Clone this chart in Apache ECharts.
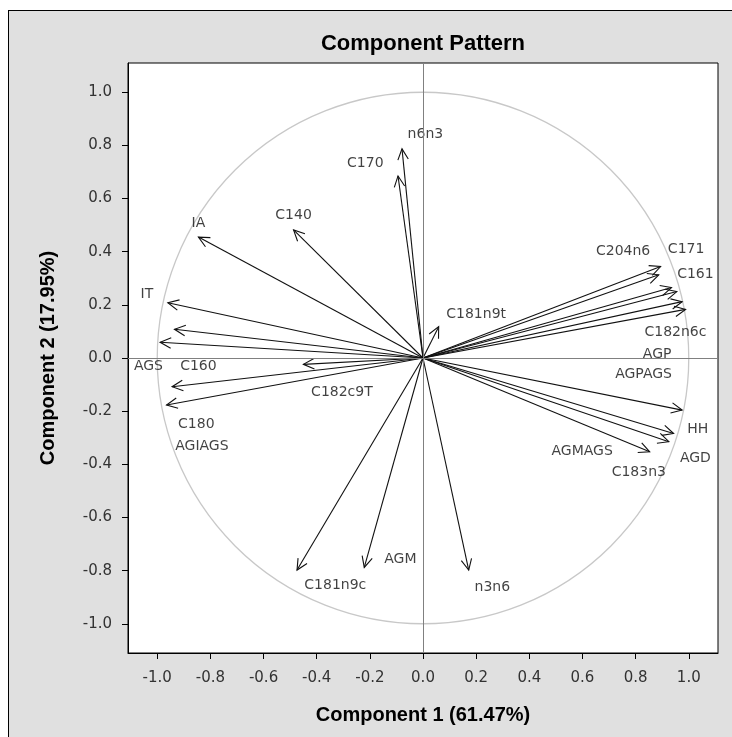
<!DOCTYPE html>
<html><head><meta charset="utf-8">
<script src="https://cdn.jsdelivr.net/npm/echarts@6/dist/echarts.min.js"></script>
<style>
html,body{margin:0;padding:0;background:#fff;overflow:hidden;}
#frame{position:absolute;left:8px;top:10px;width:740px;height:740px;background:#e0e0e0;border:1px solid #000;}
#c{position:absolute;left:0;top:0;width:732px;height:737px;}
</style>
</head><body><div id="frame"></div><div id="c"></div>
<script>
// Arrow end points (component loadings)
const varNames = ['n6n3','C170','C140','IA','IT','C160','AGS','C182c9T','C180','AGIAGS','C181n9t',
  'C181n9c','AGM','n3n6','C204n6','C171','C161','AGP','C182n6c','AGPAGS','HH','AGD','AGMAGS','C183n3'];
const comp1 = [-0.079,-0.094,-0.487,-0.845,-0.960,-0.935,-0.989,-0.450,-0.944,-0.965,0.059,
  -0.474,-0.221,0.172,0.894,0.887,0.935,0.955,0.975,0.988,0.975,0.943,0.925,0.853];
const comp2 = [0.787,0.685,0.482,0.455,0.208,0.108,0.059,-0.024,-0.108,-0.177,0.118,
  -0.798,-0.788,-0.798,0.344,0.313,0.265,0.250,0.212,0.183,-0.196,-0.284,-0.315,-0.353];
// Label placements (data coordinates)
const labelText = ['n6n3','C170','C140','IA','IT','C160','AGS','C182c9T','C180','AGIAGS','C181n9t',
  'C181n9c','AGM','n3n6','C204n6','C171','C161','AGP','C182n6c','AGPAGS','HH','AGD','AGMAGS','C183n3'];
const labelX = [0.009,-0.217,-0.487,-0.845,-1.039,-0.845,-1.033,-0.305,-0.853,-0.832,0.200,
  -0.330,-0.085,0.261,0.753,0.990,1.025,0.881,0.950,0.830,1.034,1.025,0.599,0.812];
const labelY = [0.840,0.733,0.537,0.507,0.240,-0.033,-0.033,-0.131,-0.249,-0.334,0.166,
  -0.855,-0.757,-0.862,0.403,0.410,0.315,0.015,0.095,-0.060,-0.267,-0.378,-0.350,-0.430];
const tickValues = [-1.0,-0.8,-0.6,-0.4,-0.2,0.0,0.2,0.4,0.6,0.8,1.0];
const axisMin = -1.11, axisMax = 1.11;
const title = 'Component Pattern';
const xTitle = 'Component 1 (61.47%)';
const yTitle = 'Component 2 (17.95%)';

const chart = echarts.init(document.getElementById('c'), null, {renderer:'canvas'});
const FONT = 'DejaVu Sans';
const arrowData = varNames.map((n,i)=>[comp1[i], comp2[i], n]);
const labelData = labelText.map((n,i)=>[labelX[i], labelY[i], n]);

function axisCommon(name, margin){
  return {
    type:'value', min:axisMin, max:axisMax,
    splitLine:{show:false},
    axisLine:{show:true, onZero:false, lineStyle:{color:'#000', width:1}},
    axisTick:{show:true, customValues:tickValues, length:6, lineStyle:{color:'#000'}},
    axisLabel:{show:true, customValues:tickValues, formatter:v=>Number(v).toFixed(1),
      fontFamily:FONT, fontSize:15, color:'#333', margin:margin},
    name:name, nameLocation:'middle',
    nameTextStyle:{fontFamily:'Liberation Sans', fontWeight:'bold', fontSize:20, color:'#000'}
  };
}
const xAxis = axisCommon(xTitle, 18); xAxis.nameGap = 52;
const yAxis = axisCommon(yTitle, 16); yAxis.nameGap = 70;

chart.setOption({
  animation:false,
  grid:{left:128, top:63, width:590, height:590, show:true, backgroundColor:'#fff', borderColor:'#000', borderWidth:1},
  graphic:[{type:'text', x:423, y:44, style:{text:title, textAlign:'center', textVerticalAlign:'middle',
    font:'bold 22px "Liberation Sans"', fill:'#000'}}],
  xAxis:xAxis, yAxis:yAxis,
  series:[
    {type:'custom', data:[[0,0]], silent:true, z:1,
     renderItem:(params, api)=>{
       const c = api.coord([0,0]); const r = api.size([1,1]);
       return {type:'circle', shape:{cx:c[0], cy:c[1], r:r[0]}, style:{fill:'none', stroke:'#c8c8c8', lineWidth:1.3}};
     },
     markLine:{silent:true, symbol:'none', label:{show:false}, lineStyle:{color:'#808080', width:1, type:'solid'},
       data:[{xAxis:0},{yAxis:0}]}
    },
    {type:'custom', data:arrowData, silent:true, z:3,
     renderItem:(params, api)=>{
       const o = api.coord([0,0]);
       const p = api.coord([api.value(0), api.value(1)]);
       const ang = Math.atan2(p[1]-o[1], p[0]-o[0]);
       const L = 12, h = 0.45;
       const a = [p[0]-L*Math.cos(ang-h), p[1]-L*Math.sin(ang-h)];
       const b = [p[0]-L*Math.cos(ang+h), p[1]-L*Math.sin(ang+h)];
       return {type:'group', children:[
         {type:'line', shape:{x1:o[0], y1:o[1], x2:p[0], y2:p[1]}, style:{stroke:'#111', lineWidth:1.1}},
         {type:'polyline', shape:{points:[a,p,b]}, style:{stroke:'#111', fill:'none', lineWidth:1.1}}
       ]};
     }
    },
    {type:'scatter', data:labelData, symbolSize:0, silent:true, z:4,
     label:{show:true, position:'inside', formatter:p=>p.value[2], fontFamily:FONT, fontSize:14, color:'#111'}
    }
  ]
});
</script>
</body></html>
